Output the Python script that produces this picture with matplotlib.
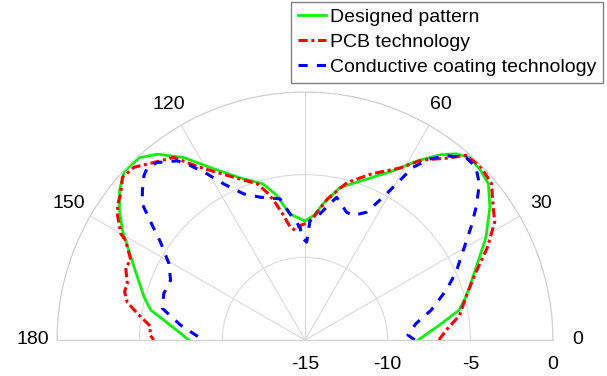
import numpy as np
import matplotlib.pyplot as plt

plt.rcParams['font.family'] = ['Liberation Sans', 'DejaVu Sans']
plt.rcParams['axes.unicode_minus'] = False

# ---------------------------------------------------------------
# Datos leídos del diagrama (ángulo en grados, nivel en dB)
# ---------------------------------------------------------------
theta_disenado = [0, 6.3, 11, 15, 23, 29.6, 35.7, 40.4, 44, 48, 51, 54, 58, 62.5, 69, 77,
                  82.4, 86, 90, 97, 101, 105, 112, 118, 123.6, 128.5, 132.3, 137, 141,
                  145, 149, 154.5, 159.4, 165, 169, 172, 176.9, 180]
db_disenado = [-8.15, -6.82, -5.5, -4.92, -3.75, -2.41, -1.23, -0.43, -0.23, -0.14, -0.51,
               -1.16, -2.24, -3.46, -4.58, -5.52, -6.69, -7.45, -7.8, -7.31, -6.1, -5.23,
               -4.41, -3.28, -1.75, -0.64, -0.1, -0.05, -0.57, -1.3, -2.12, -3.33, -4.17,
               -4.92, -5.49, -6.38, -7.46, -7.97]

theta_pcb = [0, 4, 9, 15, 21, 27, 32, 35, 40, 45, 49, 52, 57, 61, 64, 68, 75, 81, 86, 88,
             92.5, 95, 97.5, 100, 102, 104, 107, 112, 118, 122, 125.7, 130.4, 134.7, 138.3,
             141.6, 144, 146.4, 150, 151, 155.4, 158, 162.4, 165, 168, 171, 175, 178, 180]
db_pcb = [-6.9, -6.44, -5.54, -4.92, -4.0, -2.6, -1.46, -1.1, -0.27, -0.05, -0.2, -1.04,
          -2.02, -3.1, -3.6, -4.15, -5.14, -6.37, -7.55, -7.87, -8.07, -8.34, -8.11, -7.26,
          -6.59, -5.89, -5.12, -4.5, -3.5, -2.6, -1.4, -0.9, -0.3, -0.21, -0.78, -1.0,
          -1.39, -2.13, -2.6, -3.41, -3.3, -3.73, -3.7, -4.01, -4.73, -5.63, -5.6, -5.86]

theta_recub = [0, 2.8, 8.5, 13.3, 19.4, 24.2, 29.5, 34.2, 37.8, 41.8, 45.3, 48.6, 52.5,
               55.5, 58, 59.3, 61.3, 64.3, 68.9, 72, 77.5, 80.8, 83.2, 87.6, 89, 91.8,
               92.5, 96.8, 100, 107.4, 112.8, 117.5, 120.5, 123.8, 125.5, 129.8, 132.4,
               134.4, 137.4, 140.1, 142.6, 145.9, 150.7, 156, 161.8, 167.5, 173.2, 179, 180]
db_recub = [-8.37, -8.77, -8.2, -7.16, -5.95, -4.98, -4.0, -2.86, -1.9, -0.85, -0.3, -0.28,
            -0.96, -1.72, -2.69, -3.79, -5.16, -6.42, -6.93, -6.87, -6.16, -6.87, -7.31,
            -7.77, -9.08, -8.78, -8.17, -7.31, -6.33, -5.95, -5.41, -4.36, -3.34, -2.19,
            -1.69, -1.03, -0.86, -1.08, -1.64, -2.17, -3.25, -4.45, -5.56, -6.1, -6.01,
            -6.16, -7.42, -8.67, -8.7]

etiquetas_theta = ['0', '30', '60', '', '120', '150', '180']
ticks_r = [-15, -10, -5, 0]

# ---------------------------------------------------------------
# Figura (ejes cuadrados: el semicírculo queda centrado en ellos)
# ---------------------------------------------------------------
fig = plt.figure(figsize=(6.07, 3.76), dpi=100)
ax = fig.add_axes([0.0939, -0.2340, 0.8171, 1.3191], projection='polar')
ax.set_thetamin(0)
ax.set_thetamax(180)
ax.set_rlim(-15, 0)
ax.set_rticks(ticks_r)
ax.set_thetagrids(np.arange(0, 181, 30), etiquetas_theta, fontsize=14)
ax.tick_params(axis='x', pad=7)
ax.tick_params(axis='y', labelsize=14, pad=8)
ax.grid(True, color='#dadada', linewidth=0.8)
for s in ax.spines.values():
    s.set_color('#cfcfcf')
    s.set_linewidth(0.8)

ax.plot(np.deg2rad(theta_disenado), db_disenado, color='#11ee11', lw=2.0,
        label='Designed pattern')
ax.plot(np.deg2rad(theta_pcb), db_pcb, color='#ff0000', lw=2.2,
        linestyle=(0, (3, 1.2, 1, 1.2)), label='PCB technology')
ax.plot(np.deg2rad(theta_recub), db_recub, color='#0000ff', lw=2.2,
        linestyle=(0, (3, 3)), label='Conductive coating technology')

fig.legend(loc='upper right', bbox_to_anchor=(0.9934, 0.995), fontsize=14,
           frameon=True, fancybox=False, edgecolor='#808080', framealpha=1,
           handlelength=1.45, handletextpad=0.2, borderpad=0.35, labelspacing=0.38,
           borderaxespad=0)

fig.savefig('out.png', dpi=100)
